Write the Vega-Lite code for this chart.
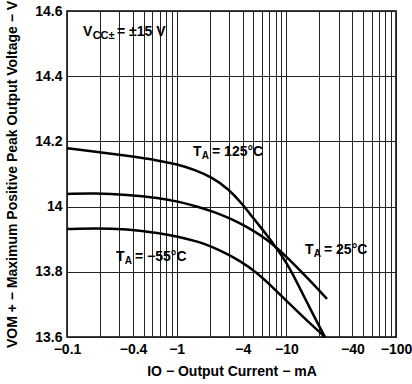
{
  "$schema": "https://vega.github.io/schema/vega-lite/v6.json",
  "width": 329,
  "height": 326,
  "autosize": "none",
  "padding": {"left": 67, "top": 11, "right": 16, "bottom": 47},
  "background": "white",
  "config": {
    "font": "Liberation Sans",
    "view": {"stroke": "black", "strokeWidth": 1.5},
    "axis": {
      "labelFont": "Liberation Sans",
      "titleFont": "Liberation Sans",
      "labelFontSize": 14,
      "labelFontWeight": "bold",
      "labelColor": "black",
      "titleFontSize": 14,
      "titleFontWeight": "bold",
      "titleColor": "black",
      "ticks": false,
      "domain": false,
      "gridColor": "#222222",
      "gridOpacity": 1,
      "gridWidth": 1
    }
  },
  "datasets": {
    "curves": [
      {"I": -0.1, "V": 14.179, "temp": "125°C"},
      {"I": -0.18, "V": 14.169, "temp": "125°C"},
      {"I": -0.35, "V": 14.156, "temp": "125°C"},
      {"I": -0.7, "V": 14.141, "temp": "125°C"},
      {"I": -1.0, "V": 14.130, "temp": "125°C"},
      {"I": -1.47, "V": 14.113, "temp": "125°C"},
      {"I": -2.09, "V": 14.090, "temp": "125°C"},
      {"I": -2.96, "V": 14.055, "temp": "125°C"},
      {"I": -4.05, "V": 14.005, "temp": "125°C"},
      {"I": -5.0, "V": 13.964, "temp": "125°C"},
      {"I": -6.62, "V": 13.914, "temp": "125°C"},
      {"I": -8.4, "V": 13.866, "temp": "125°C"},
      {"I": -10.1, "V": 13.826, "temp": "125°C"},
      {"I": -12.0, "V": 13.78, "temp": "125°C"},
      {"I": -16.4, "V": 13.688, "temp": "125°C"},
      {"I": -22.5, "V": 13.6, "temp": "125°C"},
      {"I": -0.1, "V": 14.039, "temp": "25°C"},
      {"I": -0.18, "V": 14.041, "temp": "25°C"},
      {"I": -0.35, "V": 14.037, "temp": "25°C"},
      {"I": -0.7, "V": 14.026, "temp": "25°C"},
      {"I": -1.0, "V": 14.017, "temp": "25°C"},
      {"I": -1.63, "V": 13.998, "temp": "25°C"},
      {"I": -2.16, "V": 13.984, "temp": "25°C"},
      {"I": -2.86, "V": 13.968, "temp": "25°C"},
      {"I": -3.78, "V": 13.949, "temp": "25°C"},
      {"I": -5.0, "V": 13.926, "temp": "25°C"},
      {"I": -6.62, "V": 13.900, "temp": "25°C"},
      {"I": -8.4, "V": 13.870, "temp": "25°C"},
      {"I": -10.1, "V": 13.845, "temp": "25°C"},
      {"I": -15.0, "V": 13.787, "temp": "25°C"},
      {"I": -23.5, "V": 13.717, "temp": "25°C"},
      {"I": -0.1, "V": 13.931, "temp": "-55°C"},
      {"I": -0.18, "V": 13.934, "temp": "-55°C"},
      {"I": -0.35, "V": 13.931, "temp": "-55°C"},
      {"I": -0.7, "V": 13.919, "temp": "-55°C"},
      {"I": -1.0, "V": 13.909, "temp": "-55°C"},
      {"I": -1.63, "V": 13.891, "temp": "-55°C"},
      {"I": -2.09, "V": 13.877, "temp": "-55°C"},
      {"I": -2.86, "V": 13.856, "temp": "-55°C"},
      {"I": -3.7, "V": 13.835, "temp": "-55°C"},
      {"I": -5.3, "V": 13.800, "temp": "-55°C"},
      {"I": -7.5, "V": 13.753, "temp": "-55°C"},
      {"I": -10.6, "V": 13.703, "temp": "-55°C"},
      {"I": -15.1, "V": 13.653, "temp": "-55°C"},
      {"I": -22.5, "V": 13.6, "temp": "-55°C"}
    ],
    "labels": [
      {"I": -1.41, "V": 14.168, "main": "T", "sub": "A", "rest": "= 125°C"},
      {"I": -14.8, "V": 13.867, "main": "T", "sub": "A", "rest": "= 25°C"},
      {"I": -0.28, "V": 13.845, "main": "T", "sub": "A", "rest": "= −55°C"}
    ],
    "vcc": [
      {"I": -0.14, "V": 14.536, "main": "V", "sub": "CC±", "rest": "= ±15 V"}
    ]
  },
  "encoding": {
    "x": {
      "field": "I",
      "type": "quantitative",
      "scale": {"type": "log", "domain": [-0.1, -100], "nice": false},
      "title": "IO − Output Current − mA",
      "axis": {
        "values": [-0.1, -0.2, -0.3, -0.4, -0.5, -0.6, -0.7, -0.8, -0.9, -1, -2, -3, -4, -5, -6, -7, -8, -9, -10, -20, -30, -40, -50, -60, -70, -80, -90, -100],
        "format": ".1~f",
        "labelExpr": "indexof([-0.1, -0.4, -1, -4, -10, -40, -100], datum.value) >= 0 ? datum.label : ''",
        "labelOverlap": false,
        "labelFlush": false,
        "labelPadding": 5,
        "titlePadding": 8
      }
    },
    "y": {
      "field": "V",
      "type": "quantitative",
      "scale": {"domain": [13.6, 14.6], "zero": false, "nice": false},
      "title": "VOM + − Maximum Positive Peak Output Voltage − V",
      "axis": {
        "values": [13.6, 13.8, 14, 14.2, 14.4, 14.6],
        "format": ".1~f",
        "labelPadding": 5,
        "titlePadding": 15
      }
    }
  },
  "layer": [
    {
      "data": {"name": "curves"},
      "mark": {"type": "line", "color": "black", "strokeWidth": 2.5, "interpolate": "basis"},
      "encoding": {"detail": {"field": "temp"}}
    },
    {
      "data": {"name": "labels"},
      "mark": {"type": "text", "align": "left", "baseline": "middle", "fontSize": 14, "fontWeight": "bold", "color": "black"},
      "encoding": {"text": {"field": "main"}}
    },
    {
      "data": {"name": "labels"},
      "mark": {"type": "text", "align": "left", "baseline": "middle", "fontSize": 10, "fontWeight": "bold", "color": "black", "dx": 8.8, "dy": 4},
      "encoding": {"text": {"field": "sub"}}
    },
    {
      "data": {"name": "labels"},
      "mark": {"type": "text", "align": "left", "baseline": "middle", "fontSize": 14, "fontWeight": "bold", "color": "black", "dx": 19},
      "encoding": {"text": {"field": "rest"}}
    },
    {
      "data": {"name": "vcc"},
      "mark": {"type": "text", "align": "left", "baseline": "middle", "fontSize": 14, "fontWeight": "bold", "color": "black"},
      "encoding": {"text": {"field": "main"}}
    },
    {
      "data": {"name": "vcc"},
      "mark": {"type": "text", "align": "left", "baseline": "middle", "fontSize": 11, "fontWeight": "bold", "color": "black", "dx": 9.6, "dy": 4},
      "encoding": {"text": {"field": "sub"}}
    },
    {
      "data": {"name": "vcc"},
      "mark": {"type": "text", "align": "left", "baseline": "middle", "fontSize": 14, "fontWeight": "bold", "color": "black", "dx": 34},
      "encoding": {"text": {"field": "rest"}}
    }
  ]
}
